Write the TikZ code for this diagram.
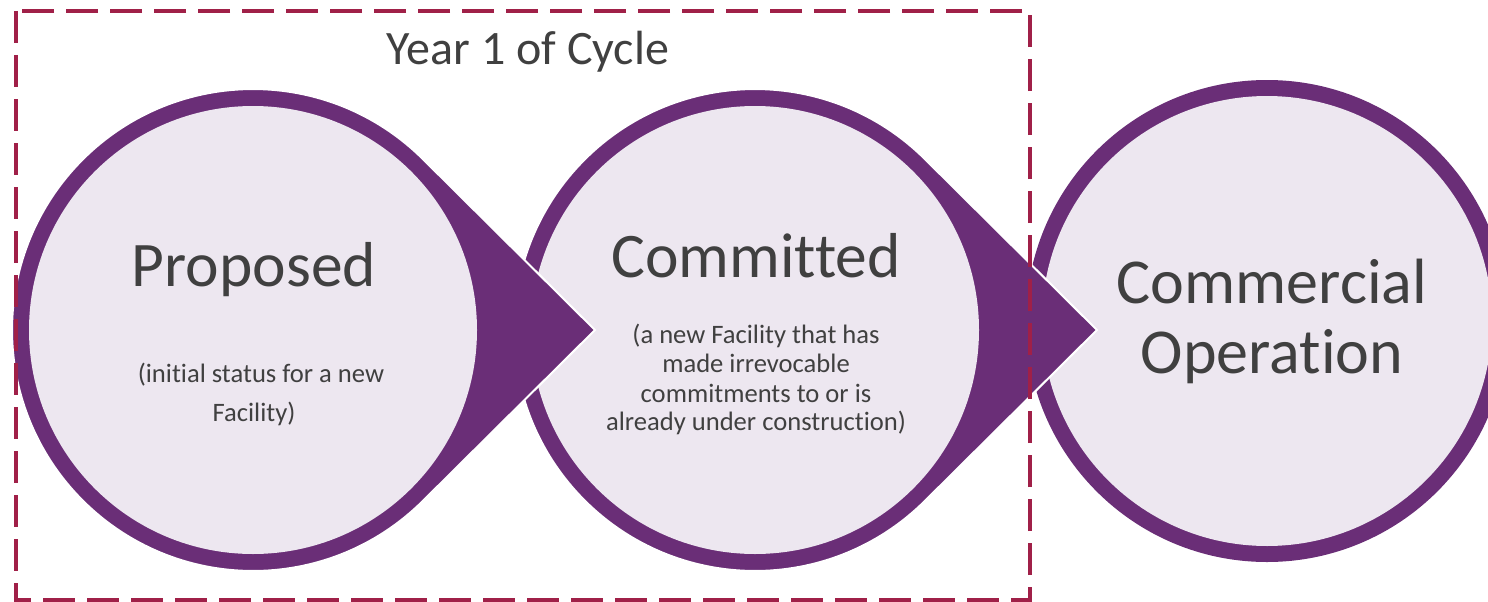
\documentclass[tikz,border=0pt]{standalone}
\usepackage{fontspec}
\setmainfont{Carlito}[Ligatures=NoCommon]
\usetikzlibrary{calc}
\definecolor{ringpurple}{RGB}{106,46,119}
\definecolor{innerfill}{RGB}{237,231,240}
\definecolor{boxred}{RGB}{160,32,72}
\definecolor{txtgray}{RGB}{64,64,64}
\tikzset{
  ringshape/.style={fill=ringpurple, draw=white, line width=2pt},
  innerdisk/.style={fill=innerfill},
  txt/.style={text=txtgray, anchor=base, inner sep=0pt},
  bigtext/.style={txt, font=\fontsize{63.5}{70}\selectfont},
  smalltext/.style={txt, font=\fontsize{26.6}{30}\selectfont},
  cyclebox/.style={draw=boxred, line width=4pt, dash pattern=on 32pt off 12pt},
}
\begin{document}
\begin{tikzpicture}[x=1pt,y=-1pt]
\useasboundingbox (0,0) rectangle (1488,602);
\clip (0,0) rectangle (1488,602);
% circle 3
\coordinate (c3) at (1267,321);
\fill[ringpurple] (c3) circle[radius=241];
\fill[innerdisk] (c3) circle[radius=225];
% shape 2
\coordinate (c2) at (755,330);
\filldraw[ringshape] ($(c2)+(342,0)$) -- ($(c2)+(45.4:241)$) arc[start angle=45.4, end angle=314.6, radius=241] -- cycle;
\fill[innerdisk] (c2) circle[radius=224];
% shape 1
\coordinate (c1) at (253,330);
\filldraw[ringshape] ($(c1)+(342,0)$) -- ($(c1)+(45.4:241)$) arc[start angle=45.4, end angle=314.6, radius=241] -- cycle;
\fill[innerdisk] (c1) circle[radius=224];
% dashed box
\draw[cyclebox] (16,11) rectangle (1030,600);
% texts
\node[txt, font=\fontsize{48}{56}\selectfont] (year) at (528,65) {Year 1 of Cycle};
\node[bigtext] (prop) at (254,286) {Proposed};
\node[smalltext] (propsubA) at (261,382) {(initial status for a new};
\node[smalltext] (propsubB) at (254,421) {Facility)};
\node[bigtext] (comm) at (756,277) {Committed};
\node[smalltext] (commsubA) at (756,343) {(a new Facility that has};
\node[smalltext] (commsubB) at (756,372) {made irrevocable};
\node[smalltext] (commsubC) at (756,402) {commitments to or is};
\node[smalltext] (commsubD) at (756,430) {already under construction)};
\node[txt, font=\fontsize{64}{70}\selectfont] (copA) at (1272,303) {Commercial};
\node[txt, font=\fontsize{64}{70}\selectfont] (copB) at (1272,373) {Operation};
\end{tikzpicture}
\end{document}
